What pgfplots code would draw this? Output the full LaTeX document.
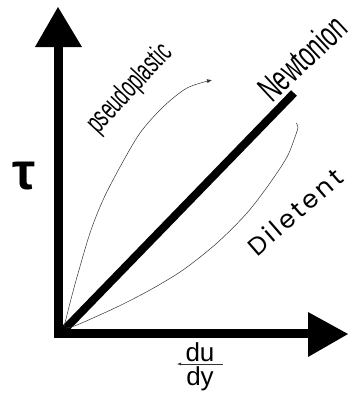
\documentclass[border=0pt]{standalone}
\usepackage{fontspec}
\usepackage{pgfplots}
\pgfplotsset{compat=1.18}
\usetikzlibrary{arrows.meta}
\setmainfont{Liberation Sans}
\newfontfamily\narrowfont[FakeStretch=0.6]{Liberation Sans}
\newfontfamily\newtfont[FakeStretch=0.62]{Liberation Sans}
\newfontfamily\wideletters[LetterSpace=12]{Poppins}

\begin{document}
\begin{tikzpicture}
\begin{axis}[
  name=main,
  width=350pt, height=394pt, scale only axis,
  xmin=0, xmax=350, ymin=0, ymax=394,
  y dir=reverse,
  hide axis,
  clip=false,
]
% axes with heads
\addplot[black, line width=9pt, line join=miter] coordinates {(58,45) (58,333) (310,333)};
\addplot[fill=black, draw=none] coordinates {(35,47) (58,7) (82,47)};
\addplot[fill=black, draw=none] coordinates {(308,312) (348,334) (308,357)};
% newtonian
\addplot[black, line width=8pt] coordinates {(63,331) (294,93)};
% pseudoplastic
\addplot[black!80, line width=0.5pt, smooth, -{Latex[length=5pt,width=4pt]}] coordinates {
  (64,327) (70,303) (77,277) (90,233) (103,200) (120,167) (140,133) (163,107) (187,88) (212,80)
};
% dilatant
\addplot[black!80, line width=0.5pt, smooth] coordinates {
  (66,328) (77,325) (117,307) (150,290) (183,270) (217,243) (247,213) (270,183) (287,157) (295,137) (298,127) (296,123)
};
% du/dy fraction bar
\addplot[black!80, line width=0.5pt, {Latex[length=4pt,width=3pt]}-] coordinates {(177,364) (223,364)};

\node[rotate=47] at (axis cs:130,89) {\narrowfont\fontsize{30}{34}\selectfont pseudoplastic};
\node[rotate=43] at (axis cs:302,58) {\newtfont\fontsize{36}{40}\selectfont Newtonion};
\node[rotate=41] at (axis cs:295,212) {\wideletters\fontsize{25}{28}\selectfont Diletent};
\node at (axis cs:24,176) {\bfseries\fontsize{52}{56}\selectfont τ};
\node at (axis cs:200,352) {\fontsize{26}{28}\selectfont du};
\node at (axis cs:200,379) {\fontsize{26}{28}\selectfont dy};
\end{axis}
\pgfresetboundingbox
\path (main.south west) rectangle (main.north east);
\end{tikzpicture}
\end{document}
